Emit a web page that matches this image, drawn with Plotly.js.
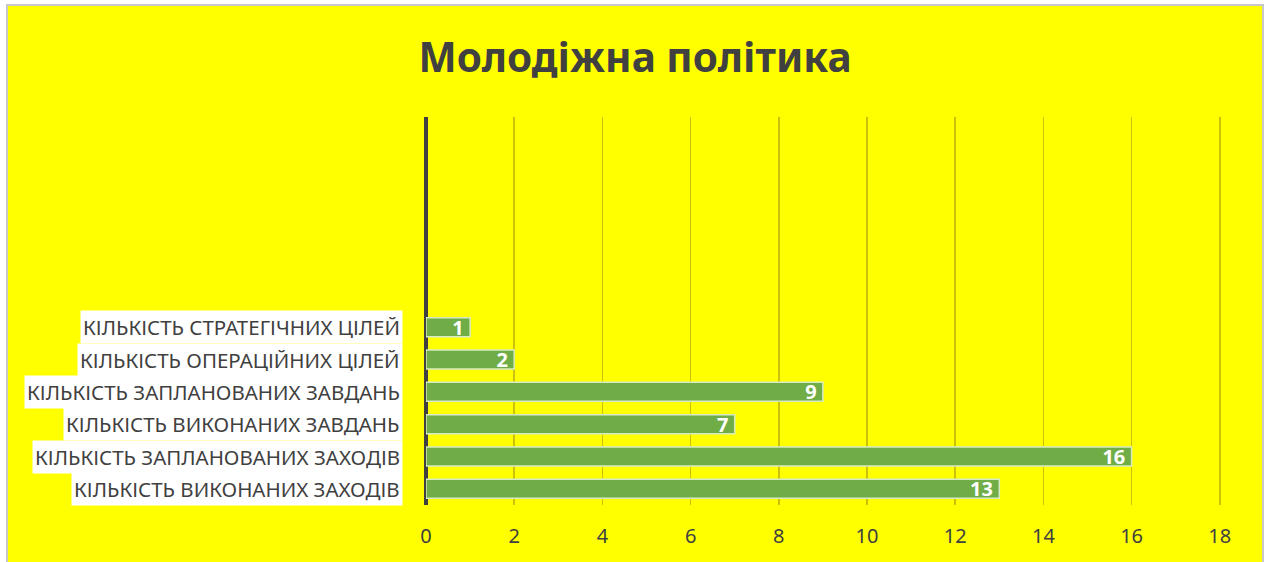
<!DOCTYPE html>
<html>
<head>
<meta charset="utf-8">
<script src="https://cdn.plot.ly/plotly-3.0.1.min.js"></script>
<style>
  html, body { margin: 0; padding: 0; background: #ffffff; width: 1266px; height: 562px; overflow: hidden; }
  #frame { position: absolute; left: 6px; top: 4px; width: 1254px; height: 560px; border: 2px solid #c8c8c8; border-bottom: none; background: #ffff00; }
  #chart { width: 1254px; height: 560px; }
</style>
</head>
<body>
<div id="frame"><div id="chart"></div></div>
<script>
const chartTitle = 'Молодіжна політика';
const categories = [
  'КІЛЬКІСТЬ ВИКОНАНИХ ЗАХОДІВ',
  'КІЛЬКІСТЬ ЗАПЛАНОВАНИХ ЗАХОДІВ',
  'КІЛЬКІСТЬ ВИКОНАНИХ ЗАВДАНЬ',
  'КІЛЬКІСТЬ ЗАПЛАНОВАНИХ ЗАВДАНЬ',
  'КІЛЬКІСТЬ ОПЕРАЦІЙНИХ ЦІЛЕЙ',
  'КІЛЬКІСТЬ СТРАТЕГІЧНИХ ЦІЛЕЙ'
];
const values = [13, 16, 7, 9, 2, 1];
const xTicks = [0, 2, 4, 6, 8, 10, 12, 14, 16, 18];

const trace = {
  type: 'bar',
  orientation: 'h',
  x: values,
  y: categories,
  marker: { color: '#70ad47', line: { color: '#d6ebc4', width: 1.5 } },
  texttemplate: '%{x}\u2009',
  textposition: 'inside',
  insidetextanchor: 'end',
  textangle: 0,
  constraintext: 'none',
  textfont: { family: 'Noto Sans', size: 20, color: '#ffffff', weight: 'bold' },
  hoverinfo: 'x+y'
};

const annotations = categories.map(c => ({
  xref: 'x', yref: 'y', x: 0, y: c,
  xanchor: 'right', yanchor: 'middle',
  xshift: -23,
  text: c, showarrow: false,
  bgcolor: '#ffffff', borderpad: 2,
  font: { family: 'Noto Sans', size: 20.5, color: '#404040' }
}));

const layout = {
  width: 1254, height: 560,
  paper_bgcolor: '#ffff00', plot_bgcolor: '#ffff00',
  margin: { l: 418, r: 40, t: 111, b: 61 },
  title: {
    text: '<b>' + chartTitle + '</b>',
    x: 0.5, xanchor: 'center', xref: 'container',
    y: 1 - 52 / 560, yanchor: 'middle', yref: 'container',
    font: { family: 'Noto Sans', size: 40.5, color: '#404040' }
  },
  bargap: 0.41,
  showlegend: false,
  xaxis: {
    range: [0, 18.05], tickvals: xTicks, ticktext: xTicks.map(String),
    showgrid: true, gridcolor: '#cbc20a', gridwidth: 1.5,
    zeroline: true, zerolinecolor: '#404040', zerolinewidth: 4,
    showline: false, ticks: '', ticklabelstandoff: 17,
    tickfont: { family: 'Noto Sans', size: 20, color: '#404040' },
    fixedrange: true
  },
  yaxis: {
    type: 'category', categoryorder: 'array', categoryarray: categories,
    range: [-0.5, 11.5], showticklabels: false, showgrid: false,
    zeroline: false, showline: false, ticks: '', fixedrange: true
  },
  annotations: annotations
};

Plotly.newPlot('chart', [trace], layout, { displayModeBar: false, staticPlot: true });
</script>
</body>
</html>
